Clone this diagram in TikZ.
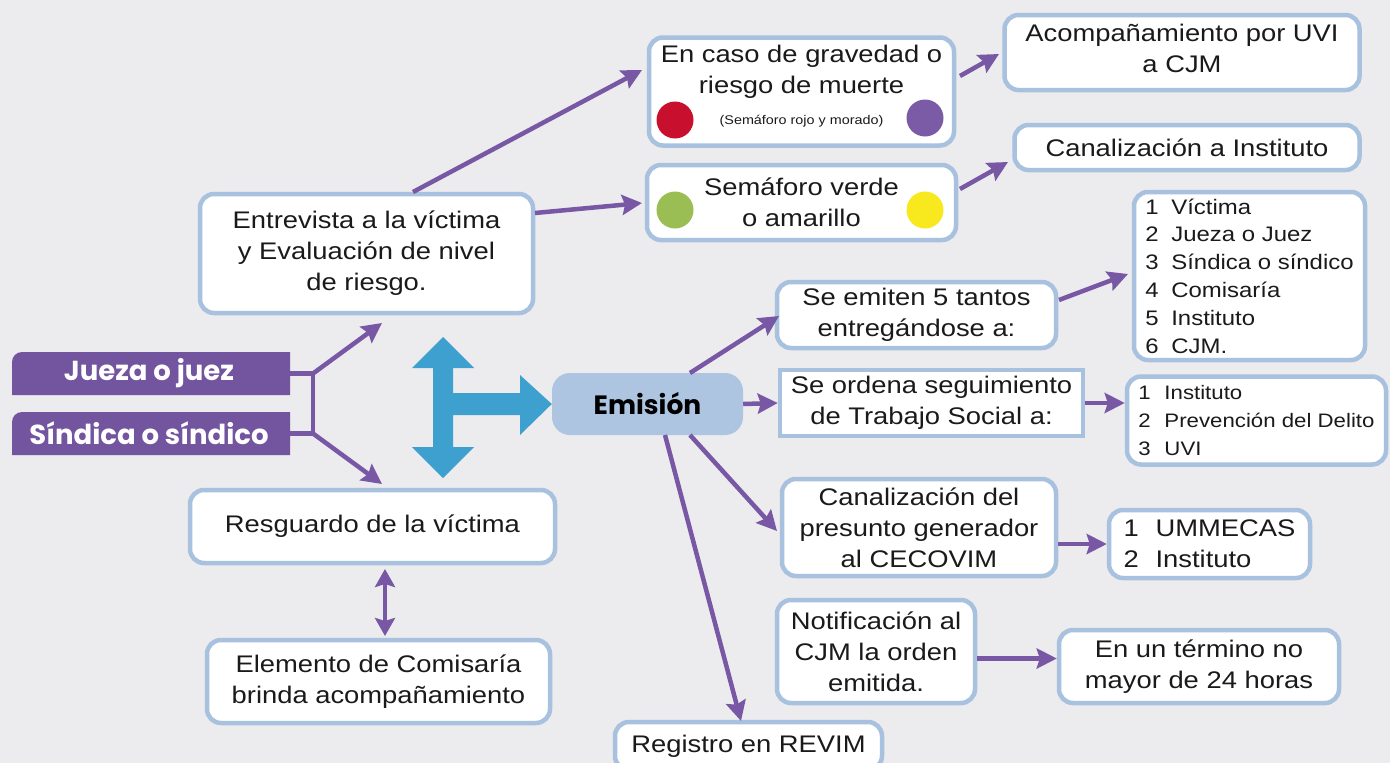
\documentclass[tikz,border=0pt]{standalone}
\usepackage{fontspec}
\setmainfont{Liberation Sans}[FakeStretch=1.14]
\newfontfamily\geo{Poppins}
\usetikzlibrary{arrows.meta}
\definecolor{bgcol}{RGB}{236,235,238}
\definecolor{bcol}{RGB}{168,193,222}
\definecolor{pcol}{RGB}{120,88,164}
\definecolor{labcol}{RGB}{115,84,158}
\definecolor{bluecol}{RGB}{62,160,207}
\definecolor{emcol}{RGB}{174,197,226}
\definecolor{redc}{RGB}{200,16,46}
\definecolor{purc}{RGB}{123,91,166}
\definecolor{grnc}{RGB}{154,189,84}
\definecolor{yelc}{RGB}{248,232,30}
\definecolor{txt}{RGB}{26,26,26}
\tikzset{
  bx/.style={draw=bcol, line width=4.5pt, fill=white, rounded corners=14pt, align=center,
    inner sep=0pt, text=txt, font=\fontsize{24}{31}\selectfont},
  sqbx/.style={bx, rounded corners=0pt},
  lstbx/.style={bx, align=left},
  txtnode/.style={inner sep=0pt, align=center, text=txt, font=\fontsize{24}{31}\selectfont},
  dot/.style={circle, inner sep=0pt, minimum size=37pt},
  lab/.style={inner sep=0pt, text=white, font=\geo\bfseries\fontsize{27.5}{30}\selectfont},
  emi/.style={fill=emcol, rounded corners=18pt, inner sep=0pt, text=black,
    font=\geo\bfseries\fontsize{26.5}{30}\selectfont},
  pline/.style={draw=pcol, line width=4.5pt},
  arr/.style={pline, -{Stealth[length=20pt,width=20pt,inset=3pt]}},
  darr/.style={pline, {Stealth[length=18pt,width=20pt,inset=3pt]}-{Stealth[length=18pt,width=20pt,inset=3pt]}},
}
\newcommand{\itm}[3][26pt]{\makebox[#1][l]{#2}#3}
\begin{document}
\begin{tikzpicture}[x=1pt,y=-1pt]
\useasboundingbox (0,0) rectangle (1390,763);
\fill[bgcol] (0,0) rectangle (1390,763);

% purple labels
\fill[labcol] (12,395) [rounded corners=10pt] -- (12,352) [sharp corners] -- (290,352) -- (290,395) -- cycle;
\fill[labcol] (12,455) [rounded corners=10pt] -- (12,412) [sharp corners] -- (290,412) -- (290,455) -- cycle;
\node[lab] (jueza) at (149,373.5) [minimum height=43pt] {Jueza o juez};
\node[lab] (sindica) at (149,433.5) [minimum height=43pt] {Síndica o síndico};
\coordinate (je) at (290,373.5);
\coordinate (se) at (290,433.5);

% boxes
\node[bx, minimum width=305pt, minimum height=108pt] (caso) at (801.5,91.5) {};
\node[txtnode] (casotxt) at (801.5,72) {En caso de gravedad o\\riesgo de muerte};
\node[txtnode, font=\fontsize{12.6}{15}\selectfont] (casosub) at (801.5,121) {(Semáforo rojo y morado)};
\node[dot, fill=redc] (rc) at (675,120) {};
\node[dot, fill=purc] (pc) at (925,118) {};

\node[bx, minimum width=309pt, minimum height=75pt] (verde) at (801.5,202.5) {Semáforo verde\\o amarillo};
\node[dot, fill=grnc] (gc) at (675,210) {};
\node[dot, fill=yelc] (yc) at (925,210) {};

\node[bx, minimum width=355pt, minimum height=75pt] (acomp) at (1182,52.5) {};
\node[txtnode] (acomptxt) at (1182,48) {Acompañamiento por UVI\\a CJM};
\node[bx, minimum width=345pt, minimum height=45pt] (caninst) at (1187,147.5) {Canalización a Instituto};

\node[bx, minimum width=333pt, minimum height=119pt] (entrev) at (366.5,253.5) {Entrevista a la víctima\\y Evaluación de nivel\\de riesgo.};

\node[lstbx, minimum width=231pt, minimum height=168pt, font=\fontsize{21}{27.8}\selectfont] (list1) at (1249.5,276)
  {\itm{1}{Víctima}\\\itm{2}{Jueza o Juez}\\\itm{3}{Síndica o síndico}\\\itm{4}{Comisaría}\\\itm{5}{Instituto}\\\itm{6}{CJM.}};

\node[bx, minimum width=279pt, minimum height=66pt] (emiten) at (916.5,315) {Se emiten 5 tantos\\entregándose a:};
\node[sqbx, minimum width=303pt, minimum height=66pt] (ordena) at (931.5,403) {Se ordena seguimiento\\de Trabajo Social a:};

\node[lstbx, minimum width=259pt, minimum height=88pt, font=\fontsize{19.5}{28}\selectfont] (list2) at (1256.5,420.5)
  {\itm{1}{Instituto}\\\itm{2}{Prevención del Delito}\\\itm{3}{UVI}};

\node[emi, minimum width=191pt, minimum height=62pt] (emision) at (647.5,404) {Emisión};

\node[bx, minimum width=274pt, minimum height=97pt] (canpres) at (919,527.5) {Canalización del\\presunto generador\\al CECOVIM};
\node[lstbx, minimum width=201pt, minimum height=68pt] (list3) at (1209.5,544)
  {\itm[32pt]{1}{UMMECAS}\\\itm[32pt]{2}{Instituto}};

\node[bx, minimum width=198pt, minimum height=103pt] (notif) at (876,651.5) {Notificación al\\CJM la orden\\emitida.};
\node[bx, minimum width=280pt, minimum height=73pt] (termino) at (1199,666.5) {En un término no\\mayor de 24 horas};

\node[bx, minimum width=267pt, minimum height=48pt] (registro) at (748.5,746) {Registro en REVIM};

\node[bx, minimum width=365pt, minimum height=73pt] (resg) at (372.5,526.5) {Resguardo de la víctima};
\node[bx, minimum width=343pt, minimum height=83pt] (elem) at (378.5,681.5) {Elemento de Comisaría\\brinda acompañamiento};

% big blue arrow
\fill[bluecol] (443,337) -- (474,368) -- (453,368) -- (453,393) -- (520,393) -- (520,375)
  -- (emision.west) -- (520,435) -- (520,415) -- (453,415) -- (453,447) -- (474,447)
  -- (443,478) -- (412,447) -- (433,447) -- (433,368) -- (412,368) -- cycle;

% left connectors
\coordinate (jj) at (313,373.5);
\coordinate (js) at (313,433.5);
\coordinate (tA) at (382,323);
\coordinate (tB) at (382,484);
\draw[pline] (je) -- (jj) -- (js) -- (se);
\draw[arr] (jj) -- (tA);
\draw[arr] (js) -- (tB);

\coordinate (rA) at (385,569);
\coordinate (rB) at (385,636);
\draw[darr] (rA) -- (rB);

% entrevista
\coordinate (eA) at (413,192);
\coordinate (cA) at (642,70);
\draw[arr] (eA) -- (cA);
\coordinate (eB) at (535,213);
\coordinate (vA) at (642,203);
\draw[arr] (eB) -- (vA);

\coordinate (kA) at (960,76);
\coordinate (aA) at (999,54);
\draw[arr] (kA) -- (aA);
\coordinate (kB) at (960,189);
\coordinate (iA) at (1008,162);
\draw[arr] (kB) -- (iA);

% emision
\coordinate (mA) at (690,373);
\coordinate (sA) at (779,316);
\draw[arr] (mA) -- (sA);
\draw[arr] (emision.east) -- (ordena.west);
\coordinate (mB) at (690,435);
\coordinate (pA) at (777,531);
\draw[arr] (mB) -- (pA);
\coordinate (mC) at (665,435);
\coordinate (gA) at (741,721);
\draw[arr] (mC) -- (gA);

\coordinate (sB) at (1059,300);
\coordinate (lA) at (1128,274);
\draw[arr] (sB) -- (lA);
\draw[arr] (ordena.east) -- (ordena.east -| list2.west);
\draw[arr] (canpres.east |- list3.west) -- (list3.west);
\draw[arr] ([yshift=-7pt]notif.east) -- ([yshift=-7pt]notif.east -| termino.west);
\end{tikzpicture}
\end{document}
